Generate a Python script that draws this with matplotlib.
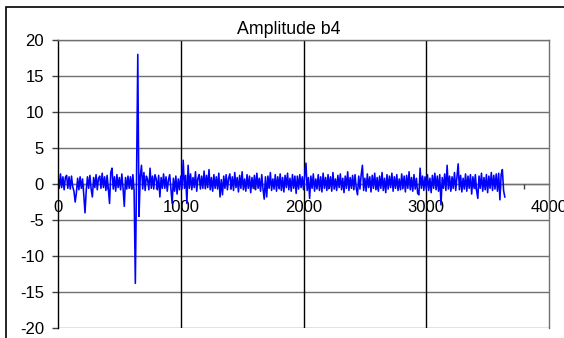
import numpy as np
import matplotlib
matplotlib.use("Agg")
import matplotlib.pyplot as plt
from matplotlib.patches import Rectangle
from matplotlib.ticker import MultipleLocator

plt.rcParams['font.family'] = ['Liberation Sans', 'DejaVu Sans']
plt.rcParams['axes.unicode_minus'] = False

title = "Amplitude b4"
step = 10   # sample spacing
# amplitude, 20 samples per row (200 units)
amp = [
    1.1, -0.6, 1.4, -0.5, 1.0, -0.8, 0.9, 1.2, -0.6, 1.0, -0.7, 1.1, -0.4, -1.0, -2.5, -1.2, 0.8, -0.8, 1.0, -0.6,
    0.7, -1.5, -4.0, -0.9, 1.0, -0.6, 1.2, -0.7, -1.8, 0.9, -0.5, 1.3, -0.8, 0.8, 1.1, -0.6, 1.5, -0.5, 1.0, -0.9,
    1.2, -0.6, -2.7, 1.6, 2.2, -0.7, 1.0, -1.0, 1.3, -0.5, 0.9, -0.8, 1.4, -0.6, -3.1, 0.9, -0.7, 1.1, -0.6, 1.0,
    -0.7, 1.3, -0.9, -13.8, 1.1, 18.0, -4.5, 1.0, 2.6, -0.7, 1.6, -0.9, 1.1, 0.6, -0.8, 2.2, -0.6, 1.1, -0.7, 1.3,
    0.7, -0.8, 1.2, -1.8, 0.9, -0.6, 1.4, -0.6, 1.0, -1.0, 0.6, 1.3, -0.7, -2.7, 0.8, -1.0, 1.1, -1.4, 0.7, -0.8,
    1.1, -0.7, 3.3, -0.6, 1.2, -2.7, 2.6, -0.6, 1.4, -0.8, 0.9, -0.5, 1.7, -1.0, 0.8, 1.3, -0.7, 1.1, -0.6, 1.8,
    -0.6, 1.2, -0.5, 2.0, -0.8, 0.9, -1.0, 1.3, -0.6, 1.0, -0.7, 1.5, -1.8, 0.6, -1.5, 1.1, -0.6, 1.3, -0.8, 0.8,
    1.4, -0.7, 1.0, -0.9, 1.6, -0.5, 0.9, -1.1, 1.2, -0.6, 1.7, -0.8, 0.7, -1.0, 1.3, -0.6, 1.1, -1.2, 0.9, -0.6,
    1.2, -0.8, 1.5, -0.6, 0.8, -1.0, 1.3, -0.7, -2.1, 1.0, -1.8, 1.1, -0.6, 1.6, -0.9, 0.7, -0.7, 1.3, -1.0, 1.0,
    -0.6, 1.4, -0.9, 0.9, -1.1, 1.2, -0.5, 1.5, -0.8, 0.8, -1.0, 1.3, -0.6, 1.1, -1.3, 1.1, -0.7, 1.3, -0.5, 1.0,
    -0.8, 1.2, 2.9, -0.9, 0.9, -2.0, 1.1, -0.6, 1.4, -1.0, 0.7, -0.7, 1.3, -0.9, 1.0, -1.1, 1.5, -0.6, 0.9, -0.9,
    1.3, -0.6, 1.0, -1.0, 1.6, -0.7, 0.7, -0.9, 1.2, -0.5, 1.4, -0.8, 0.8, -1.2, 1.1, -0.6, 1.7, -0.9, 0.9, -0.6,
    1.2, -0.8, 1.3, -0.6, -1.5, 1.1, -0.7, 1.3, 2.6, -0.9, 0.8, -1.0, 1.4, -0.5, 1.0, -1.1, 1.2, -0.6, 1.5, -0.8,
    0.9, -1.0, 1.1, -0.6, 1.6, -0.9, 0.8, -1.2, 1.3, -0.7, 1.1, -0.5, 1.5, -1.0, 1.0, -0.6, 1.3, -0.9, 0.7, -0.8,
    1.4, -0.6, 1.1, -1.1, 1.2, -0.6, 1.7, -0.8, 0.9, -1.0, 1.3, -0.7, 0.8, -1.3, -1.5, 2.2, -0.6, 1.1, -0.9, 1.0,
    -0.7, 1.3, -0.9, 0.8, -1.2, 1.2, -0.6, 1.5, -0.8, 1.1, -1.0, 1.3, -2.9, 0.9, -0.6, 1.4, -0.9, 2.6, -0.7, 1.1,
    -1.0, 1.0, -0.6, 1.6, -0.9, 0.9, 2.8, -0.8, 1.2, -1.1, 0.8, -0.7, 1.4, -1.0, 1.1, -0.6, 1.3, -1.4, 1.0, -0.6,
    1.3, -0.9, -2.0, 1.1, -0.6, 1.5, -1.0, 0.9, -0.8, 1.3, -1.2, 1.1, -0.6, 1.6, -0.9, 1.2, -0.7, 1.4, -1.0, 1.5,
    -2.2, 1.3, 2.0, -0.9, -1.8,
]
xticks = [0, 1000, 2000, 3000, 4000]
yticks = [-20, -15, -10, -5, 0, 5, 10, 15, 20]

x = np.arange(len(amp)) * step

W, H = 564, 338
fig = plt.figure(figsize=(W / 100, H / 100), dpi=100)
ax = fig.add_axes([58 / W, 1 - 328 / H, (549 - 58) / W, (328 - 40) / H])

ax.set_xlim(0, 4000)
ax.set_ylim(-20, 20)

# gridlines: horizontal grey, vertical black
for yv in yticks:
    ax.axhline(yv, color='#707070', lw=1, zorder=0)
for xv in xticks[1:-1]:
    ax.axvline(xv, color='black', lw=1, zorder=0)

ax.plot(x, amp, color='#0000FF', lw=1.15, zorder=2)

for s in ['top', 'right']:
    ax.spines[s].set_color('#707070')
    ax.spines[s].set_linewidth(1)
ax.spines['left'].set_color('black')
ax.spines['left'].set_linewidth(1)
ax.spines['bottom'].set_position(('data', 0))
ax.spines['bottom'].set_color('#707070')
ax.spines['bottom'].set_linewidth(1)
ax.spines['bottom'].set_zorder(1)

ax.set_yticks(yticks)
ax.set_yticklabels([str(v) for v in yticks])
ax.set_xticks(xticks)
ax.set_xticklabels([str(v) for v in xticks])
ax.xaxis.set_minor_locator(MultipleLocator(200))
ax.tick_params(axis='y', direction='out', length=4.3, width=1, pad=5.8,
               labelsize=12, color='#404040')
ax.tick_params(axis='x', which='major', length=0, pad=11.5, labelsize=12)
ax.tick_params(axis='x', which='minor', direction='out', length=3.5, width=1,
               color='#404040')
for lab in ax.get_xticklabels():
    lab.set_clip_on(False)

fig.text(289 / W, 1 - 34 / H, title, ha='center', va='baseline', fontsize=12.8)

# chart frame
fig.patches.append(Rectangle((6 / W, -0.1), 1.2, 1.1 - 7 / H, transform=fig.transFigure,
                             fill=False, edgecolor='black', lw=1.2))

fig.savefig('out.png', dpi=100)
